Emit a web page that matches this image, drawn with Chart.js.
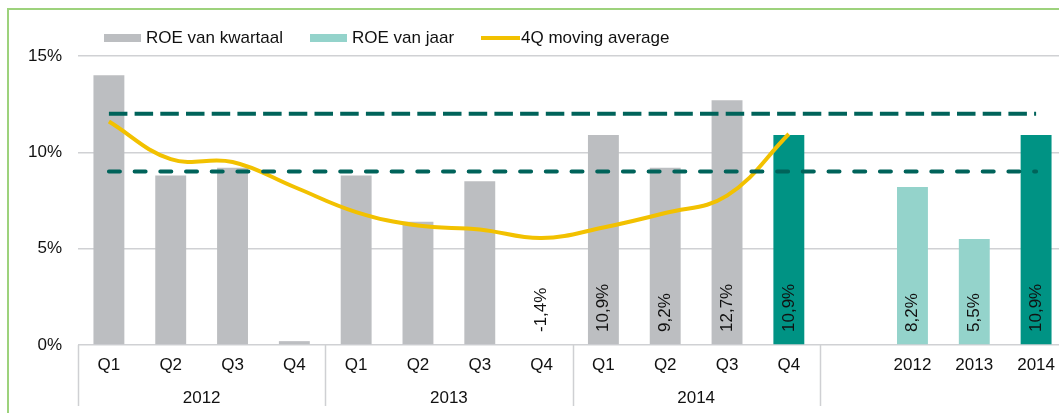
<!DOCTYPE html>
<html>
<head>
<meta charset="utf-8">
<script src="https://cdn.jsdelivr.net/npm/chart.js@4.4.1/dist/chart.umd.min.js"></script>
<style>
  html, body { margin: 0; padding: 0; background: #fff; overflow: hidden; width: 1059px; height: 413px; }
  #frame { position: absolute; left: 7px; top: 8px; width: 1200px; height: 600px;
           border-left: 2px solid #9dd27c; border-top: 2px solid #9dd27c; }
  #wrap { position: absolute; left: 0; top: 0; width: 1067px; height: 413px; }
  #legend { position: absolute; left: 104px; top: 27px; height: 21px; display: flex; align-items: center;
            font: 17px "Liberation Sans", Arial, sans-serif; color: #111; white-space: nowrap; }
  #legend .item { display: flex; align-items: center; margin-right: 27px; }
  #legend .swatch { width: 37px; height: 8px; margin-right: 5px; }
  #legend .swatch.line { width: 39px; height: 4px; margin-right: 1px; }
</style>
</head>
<body>
<div id="frame"></div>
<div id="wrap"><canvas id="roeChart" width="1067" height="413"></canvas></div>
<div id="legend"></div>
<script>
// categories
const categories = ['Q1', 'Q2', 'Q3', 'Q4', 'Q1', 'Q2', 'Q3', 'Q4', 'Q1', 'Q2', 'Q3', 'Q4', '', '2012', '2013', '2014'];
const yearGroups = ['2012', '2013', '2014'];   // each spans 4 quarters

// values (%)
const roeQuarter = [14.0, 8.8, 9.2, 0.2, 8.8, 6.4, 8.5, -1.4, 10.9, 9.2, 12.7, 10.9];
const roeYear = [8.2, 5.5, 10.9];
const movingAvg = [11.6, 9.65, 9.5, 8.2, 6.9, 6.2, 6.0, 5.55, 6.1, 6.85, 7.75, 10.95];
const targetHigh = 12;
const targetLow = 9;
const labelledQuarters = [7, 8, 9, 10, 11];
const yTicks = [0, 5, 10, 15];

const GREY = '#bcbec1';
const LIGHT_TEAL = '#94d3cb';
const DARK_TEAL = '#009384';
const YELLOW = '#f2c100';
const DASH = '#00635a';
const FONT = '"Liberation Sans", Arial, sans-serif';

const n = categories.length;
const quarterData = roeQuarter.concat(Array(n - roeQuarter.length).fill(null));
const yearData = Array(n - roeYear.length).fill(null).concat(roeYear);
const avgData = movingAvg.concat(Array(n - movingAvg.length).fill(null));

const fmt = v => v.toFixed(1).replace('.', ',') + '%';

// legend (html)
const legendItems = [
    { text: 'ROE van kwartaal', color: GREY, line: false },
    { text: 'ROE van jaar', color: LIGHT_TEAL, line: false },
    { text: '4Q moving average', color: YELLOW, line: true }
];
document.getElementById('legend').innerHTML = legendItems.map(it =>
    '<div class="item"><div class="swatch' + (it.line ? ' line' : '') + '" style="background:' + it.color + '"></div>' + it.text + '</div>'
).join('');

// year groups under the quarters, separators, value labels
const extrasPlugin = {
    id: 'extras',
    afterDatasetsDraw(chart) {
        const ctx = chart.ctx;
        const x = chart.scales.x;
        const y = chart.scales.y;
        const step = x.getPixelForValue(1) - x.getPixelForValue(0);
        const base = y.getPixelForValue(0);
        ctx.save();
        ctx.fillStyle = '#111';
        ctx.font = '17px ' + FONT;

        // value labels, rotated
        const drawLabel = (px, v) => {
            ctx.save();
            ctx.translate(px, base - 13);
            ctx.rotate(-Math.PI / 2);
            ctx.textAlign = 'left';
            ctx.textBaseline = 'middle';
            ctx.fillText(fmt(v), 0, 0);
            ctx.restore();
        };
        const qMeta = chart.getDatasetMeta(0);
        labelledQuarters.forEach(i => drawLabel(qMeta.data[i].x, roeQuarter[i]));
        const yMeta = chart.getDatasetMeta(1);
        roeYear.forEach((v, j) => drawLabel(yMeta.data[n - roeYear.length + j].x, v));

        // separators
        ctx.strokeStyle = '#cfd0d3';
        ctx.lineWidth = 1.5;
        for (let g = 0; g <= yearGroups.length; g++) {
            const px = Math.round(x.getPixelForValue(g * 4) - step / 2) + 0.5;
            ctx.beginPath();
            ctx.moveTo(px, base);
            ctx.lineTo(px, base + 61);
            ctx.stroke();
        }
        // year labels
        ctx.textAlign = 'center';
        ctx.textBaseline = 'middle';
        yearGroups.forEach((lbl, g) => {
            const cx = (x.getPixelForValue(g * 4) + x.getPixelForValue(g * 4 + 3)) / 2;
            ctx.fillText(lbl, cx, base + 53);
        });
        ctx.restore();
    }
};

new Chart(document.getElementById('roeChart').getContext('2d'), {
    type: 'bar',
    data: {
        labels: categories,
        datasets: [
            {
                label: 'ROE van kwartaal',
                data: quarterData,
                backgroundColor: quarterData.map((v, i) => i === roeQuarter.length - 1 ? DARK_TEAL : GREY),
                grouped: false,
                barPercentage: 0.5,
                categoryPercentage: 1,
                order: 3
            },
            {
                label: 'ROE van jaar',
                data: yearData,
                backgroundColor: yearData.map((v, i) => i === n - 1 ? DARK_TEAL : LIGHT_TEAL),
                grouped: false,
                barPercentage: 0.5,
                categoryPercentage: 1,
                order: 3
            },
            {
                type: 'line',
                label: '4Q moving average',
                data: avgData,
                borderColor: YELLOW,
                borderWidth: 4,
                tension: 0.4,
                pointRadius: 0,
                order: 2
            },
            {
                type: 'line',
                label: 'target high',
                data: Array(n).fill(targetHigh),
                borderColor: DASH,
                borderWidth: 4,
                borderDash: [18.5, 7.2],
                pointRadius: 0,
                order: 1
            },
            {
                type: 'line',
                label: 'target low',
                data: Array(n).fill(targetLow),
                borderColor: DASH,
                borderWidth: 4,
                borderDash: [11, 14.7],
                borderCapStyle: 'round',
                pointRadius: 0,
                order: 1
            }
        ]
    },
    options: {
        responsive: false,
        animation: false,
        devicePixelRatio: 1,
        layout: { padding: { top: 56, left: 0, right: 0, bottom: 0 } },
        plugins: {
            legend: { display: false },
            tooltip: { enabled: false }
        },
        scales: {
            x: {
                grid: { display: false, drawTicks: false },
                border: { display: false },
                ticks: { color: '#111', font: { size: 17, family: FONT }, padding: 10, maxRotation: 0, autoSkip: false },
                afterFit: s => { s.height = 68; }
            },
            y: {
                min: 0,
                max: 15,
                afterBuildTicks: s => { s.ticks = yTicks.map(v => ({ value: v })); },
                grid: { color: '#d0d1d4', lineWidth: 1.5, drawTicks: false },
                border: { display: false },
                ticks: { color: '#111', font: { size: 17, family: FONT }, padding: 16, callback: v => v + '%' },
                afterFit: s => { s.width = 78; }
            }
        }
    },
    plugins: [extrasPlugin]
});
</script>
</body>
</html>
